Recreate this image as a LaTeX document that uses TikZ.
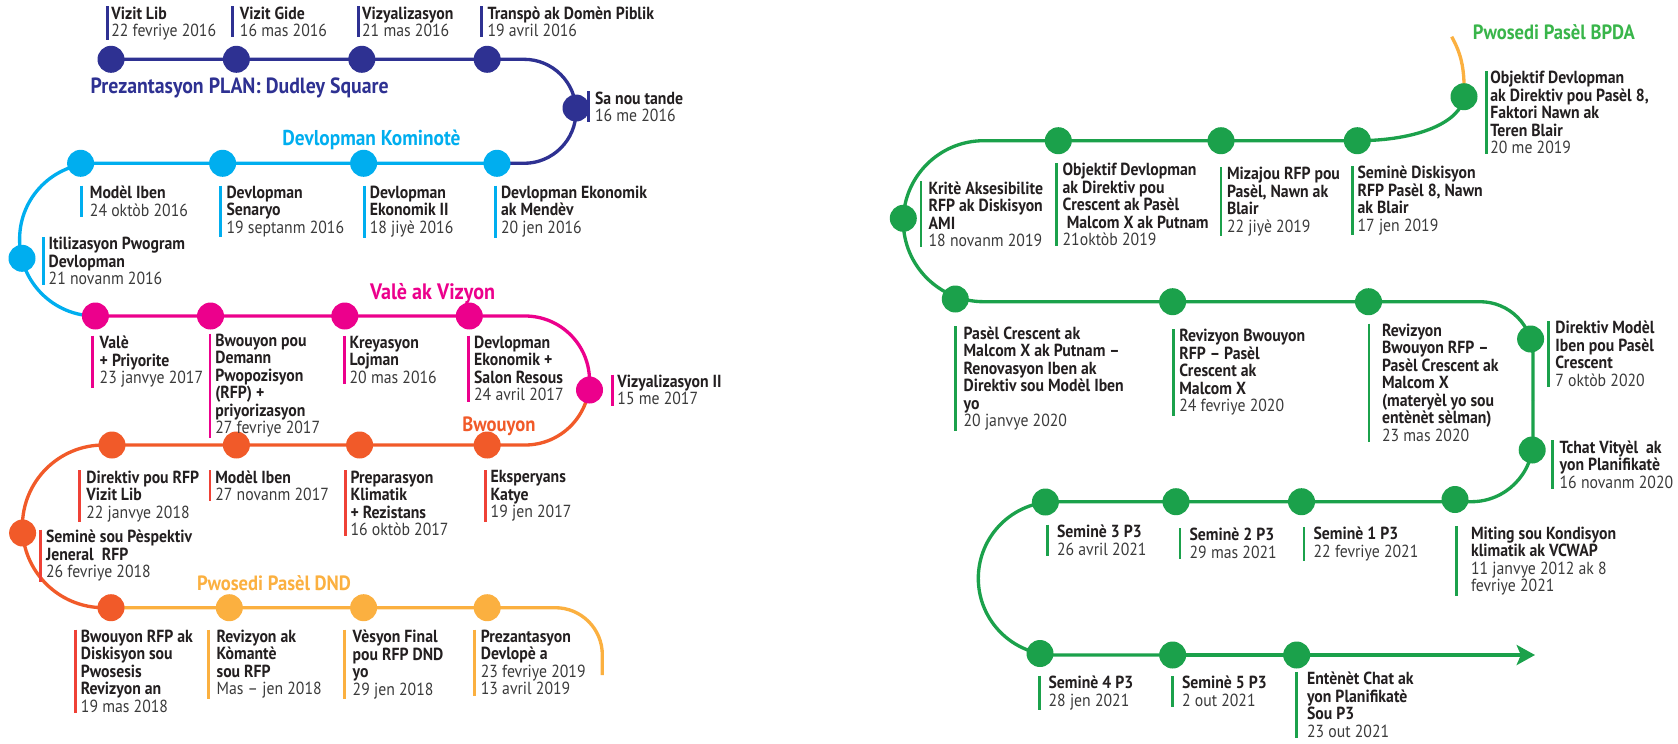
\documentclass[tikz,border=0pt]{standalone}
\usepackage{fontspec}
\setmainfont{PT Sans}[FakeStretch=0.9]
\usetikzlibrary{arrows.meta}
\definecolor{cBlue}{HTML}{2E3192}
\definecolor{cCyan}{HTML}{00AEEF}
\definecolor{cMag}{HTML}{EC008C}
\definecolor{cOr}{HTML}{F15A29}
\definecolor{cRed}{HTML}{EF4136}
\definecolor{cLt}{HTML}{FBB040}
\definecolor{cGr}{HTML}{1BA14B}
\definecolor{cGrT}{HTML}{39B54A}
\definecolor{cTxt}{HTML}{231F20}
\definecolor{cDate}{HTML}{3A3A3A}
\newcommand\dl{\mdseries\color{cDate}}
\newcommand\tlab[7][5]{%
  \node[lab] (#2) at (#3,#4) {#6\\\dl #7};
  \draw[lbar=#5] ([xshift=-0.6pt*#1]#2.north west) -- ([xshift=-0.6pt*#1]#2.south west);}
\begin{document}
\begin{tikzpicture}[x=0.6pt,y=-0.6pt,
  tdot/.style={circle,fill=#1,minimum size=16.2pt,inner sep=0pt},
  tl/.style={line width=2pt,draw=#1},
  lab/.style={anchor=north west,inner sep=0pt,align=left,font=\fontsize{10.5}{10.5}\selectfont\bfseries,text=cTxt},
  ttl/.style={font=\fontsize{12.4}{14}\selectfont\bfseries,text=#1,inner sep=0pt},
  lbar/.style={line width=1.7pt,draw=#1},
]
\useasboundingbox (0,0) rectangle (1678,743);
% ---------- node positions ----------
\coordinate (B1) at (111,59.3); \coordinate (B2) at (236.4,59.3); \coordinate (B3) at (361.8,59.3); \coordinate (B4) at (487.2,59.3); \coordinate (B5) at (576,108);
\coordinate (C1) at (80.6,163.3); \coordinate (C2) at (222.6,163.3); \coordinate (C3) at (363.6,163.3); \coordinate (C4) at (497,163.3); \coordinate (C5) at (22,258.3);
\coordinate (M1) at (95.4,316); \coordinate (M2) at (210.5,316); \coordinate (M3) at (344.8,316); \coordinate (M4) at (469.3,316); \coordinate (M5) at (589.5,390);
\coordinate (O1) at (112,445); \coordinate (O2) at (236.4,445); \coordinate (O3) at (359.6,445); \coordinate (O4) at (487.2,445); \coordinate (O5) at (22.6,533);
\coordinate (D1) at (111,607.7); \coordinate (D2) at (229.3,607.7); \coordinate (D3) at (363.6,607.7); \coordinate (D4) at (487.2,607.7);
\coordinate (G1) at (1464,96.7);
\coordinate (G2) at (1357.3,140.7); \coordinate (G3) at (1221,140.7); \coordinate (G4) at (1058.3,140.7); \coordinate (G5) at (903.3,218.3);
\coordinate (G6) at (955.3,299); \coordinate (G7) at (1172.6,301.7); \coordinate (G8) at (1368.5,301.7); \coordinate (G9) at (1530.6,339); \coordinate (G10) at (1532.2,450);
\coordinate (G11) at (1455,499.5); \coordinate (G12) at (1301.5,501.7); \coordinate (G13) at (1176,501.7); \coordinate (G14) at (1045.4,502);
\coordinate (G15) at (1040,653.5); \coordinate (G16) at (1172.7,655); \coordinate (G17) at (1296.7,655);
% ---------- corner points ----------
\coordinate (bR1) at (576,59.3); \coordinate (bR2) at (576,163.3);
\coordinate (cL1) at (19.6,163.3); \coordinate (cL2) at (19.6,316);
\coordinate (mR1) at (589.5,316); \coordinate (mMid) at (589.5,380.5); \coordinate (oR) at (589.5,445);
\coordinate (oL1) at (22.4,445); \coordinate (oL2) at (22.4,607.7);
\coordinate (dR) at (602.3,607.7); \coordinate (dEnd) at (602.3,675);
\coordinate (gS) at (1451.7,36.7);
\coordinate (gL1) at (903.3,140.7); \coordinate (gL2) at (903.3,301.7);
\coordinate (gR1) at (1533,301.7); \coordinate (gRm) at (1533,400); \coordinate (gR2) at (1533,501.7);
\coordinate (gL3) at (978.3,501.7); \coordinate (gL4) at (978.3,655);
\coordinate (gEnd) at (1535,655);
% ---------- lines ----------
\draw[tl=cBlue, rounded corners=31.2pt] (B1) -- (bR1) -- (bR2) -- (C4);
\draw[tl=cCyan, rounded corners=45.5pt] (C4) -- (cL1) -- (cL2) -- (M1);
\draw[tl=cMag, rounded corners=38.7pt] (M1) -- (mR1) -- (mMid);
\draw[tl=cOr, rounded corners=38.7pt] (mMid) -- (oR) -- (O1);
\draw[tl=cOr, rounded corners=48.7pt] (O1) -- (oL1) -- (oL2) -- (D1);
\draw[tl=cLt, rounded corners=28.2pt] (D1) -- (dR) -- (dEnd);
\draw[tl=cLt] (gS) .. controls (1460,52) and (1465,66) .. (G1);
\draw[tl=cGr] (G1) .. controls (1461,122) and (1418,140.7) .. (G2);
\draw[tl=cGr, rounded corners=48.3pt] (G2) -- (gL1) -- (gL2) -- (G7);
\draw[tl=cGr, rounded corners=31.8pt] (G7) -- (gR1) -- (gRm);
\draw[tl=cGr, rounded corners=37pt] (gRm) -- (gR2) -- (G13);
\draw[tl=cGr, rounded corners=46pt] (G13) -- (gL3) -- (gL4) -- (G16);
\draw[tl=cGr, -{Stealth[length=11pt,width=12pt,inset=2.5pt]}] (G16) -- (gEnd);
% ---------- dots ----------
\foreach \n in {1,...,5} \node[tdot=cBlue] (b\n) at (B\n) {};
\foreach \n in {1,...,5} \node[tdot=cCyan] (c\n) at (C\n) {};
\foreach \n in {1,...,5} \node[tdot=cMag] (m\n) at (M\n) {};
\foreach \n in {1,...,5} \node[tdot=cOr] (o\n) at (O\n) {};
\node[tdot=cOr] (d1) at (D1) {};
\foreach \n in {2,3,4} \node[tdot=cLt] (d\n) at (D\n) {};
\foreach \n in {1,...,17} \node[tdot=cGr] (g\n) at (G\n) {};
% ---------- titles ----------
\node[ttl=cBlue, font=\fontsize{13.2}{15}\selectfont\bfseries] (t1) at (239.6,88.3) {Prezantasyon PLAN: Dudley Square};
\node[ttl=cCyan, font=\fontsize{12.9}{15}\selectfont\bfseries] (t2) at (371.5,140) {Devlopman Kominotè};
\node[ttl=cMag, font=\fontsize{13.4}{15}\selectfont\bfseries] (t3) at (432.6,294) {Valè ak Vizyon};
\node[ttl=cOr] (t4) at (499,426.7) {Bwouyon};
\node[ttl=cLt] (t5) at (274,582.7) {Pwosedi Pasèl DND};
\node[ttl=cGrT] (t6) at (1553.9,32.3) {Pwosedi Pasèl BPDA};
% ---------- labels: blue ----------
\tlab[3.5]{lb1}{111}{6.3}{cBlue}{Vizit Lib}{22 fevriye 2016}
\tlab[6.7]{lb2}{239.6}{6.3}{cBlue}{Vizit Gide}{16 mas 2016}
\tlab[3.5]{lb3}{361.8}{6.3}{cBlue}{Vizyalizasyon}{21 mas 2016}
\tlab[5.8]{lb4}{487.2}{6.3}{cBlue}{Transpò ak Domèn Piblik}{19 avril 2016}
\tlab[5.8]{lb5}{594.7}{91.3}{cBlue}{Sa nou tande}{16 me 2016}
% ---------- labels: cyan ----------
\tlab[8]{lc1}{89.6}{185.7}{cCyan}{Modèl Iben}{24 oktòb 2016}
\tlab[6]{lc2}{226.2}{185.7}{cCyan}{Devlopman\\Senaryo}{19 septanm 2016}
\tlab{lc3}{369.5}{185.7}{cCyan}{Devlopman\\Ekonomik II}{18 jiyè 2016}
\tlab{lc4}{500.7}{185.7}{cCyan}{Devlopman Ekonomik\\ak Mendèv}{20 jen 2016}
\tlab{lc5}{48.4}{237}{cCyan}{Itilizasyon Pwogram\\Devlopman}{21 novanm 2016}
% ---------- labels: magenta ----------
\tlab[6.7]{lm1}{99.4}{335.7}{cMag}{Valè\\+ Priyorite}{23 janvye 2017}
\tlab{lm2}{215}{333.7}{cMag}{Bwouyon pou\\Demann\\Pwopozisyon\\(RFP) +\\priyorizasyon}{27 fevriye 2017}
\tlab{lm3}{349.3}{335.7}{cMag}{Kreyasyon\\Lojman}{20 mas 2016}
\tlab{lm4}{473.8}{335.7}{cMag}{Devlopman\\Ekonomik +\\Salon Resous}{24 avril 2017}
\tlab{lm5}{617.1}{374.7}{cMag}{Vizyalizasyon II}{15 me 2017}
% ---------- labels: orange ----------
\tlab[6.3]{lo1}{86}{470.3}{cRed}{Direktiv pou RFP\\Vizit Lib}{22 janvye 2018}
\tlab{lo2}{215}{470.3}{cRed}{Modèl Iben}{27 novanm 2017}
\tlab{lo3}{350.2}{470.3}{cRed}{Preparasyon\\Klimatik\\+ Rezistans}{16 oktòb 2017}
\tlab{lo4}{490.4}{470.3}{cRed}{Eksperyans\\Katye}{19 jen 2017}
\tlab{lo5}{45.7}{529.7}{cRed}{Seminè sou Pèspektiv\\Jeneral~ RFP}{26 fevriye 2018}
% ---------- labels: DND ----------
\tlab{ld1}{80.6}{629.7}{cRed}{Bwouyon RFP ak\\Diskisyon sou\\Pwosesis\\Revizyon an}{19 mas 2018}
\tlab[8]{ld2}{216.3}{629.7}{cLt}{Revizyon ak\\Kòmantè\\sou RFP}{Mas – jen 2018}
\tlab[7.6]{ld3}{352.4}{629.7}{cLt}{Vèsyon Final\\pou RFP DND\\yo}{29 jen 2018}
\tlab[5.8]{ld4}{480.5}{629.7}{cLt}{Prezantasyon\\Devlopè a}{23 fevriye 2019\\\dl 13 avril 2019}
% ---------- labels: green ----------
\tlab[3.5]{lg1}{1490}{71}{cGr}{Objektif Devlopman\\ak Direktiv pou Pasèl 8,\\Faktori Nawn ak\\Teren Blair}{20 me 2019}
\tlab[7.3]{lg2}{928.3}{181.3}{cGr}{Kritè Aksesibilite\\RFP ak Diskisyon\\AMI}{18 novanm 2019}
\tlab[5.6]{lg3}{1062.3}{163}{cGr}{Objektif Devlopman\\ak Direktiv pou\\Crescent ak Pasèl\\\hspace*{2.5pt}Malcom X ak Putnam}{21oktòb 2019}
\tlab[5.7]{lg4}{1226.7}{167}{cGr}{Mizajou RFP pou\\Pasèl, Nawn ak\\Blair}{22 jiyè 2019}
\tlab[4.6]{lg5}{1357.3}{166}{cGr}{Seminè Diskisyon\\RFP Pasèl 8, Nawn\\ak Blair}{17 jen 2019}
\tlab[7.6]{lg6}{963.3}{326.3}{cGr}{Pasèl Crescent ak\\Malcom X ak Putnam –\\Renovasyon Iben ak\\Direktiv sou Modèl Iben\\yo}{20 janvye 2020}
\tlab[5.7]{lg7}{1179}{329}{cGr}{Revizyon Bwouyon\\RFP – Pasèl\\Crescent ak\\Malcom X}{24 fevriye 2020}
\tlab[12.7]{lg8}{1381.7}{323.7}{cGr}{Revizyon\\Bwouyon RFP –\\Pasèl Crescent ak\\Malcom X\\(materyèl yo sou\\entènèt sèlman)}{23 mas 2020}
\tlab[6.7]{lg9}{1555}{321}{cGr}{Direktiv Modèl\\Iben pou Pasèl\\Crescent}{7 oktòb 2020}
\tlab[6.6]{lg10}{1559.3}{440.3}{cGr}{Tchat Vityèl~ ak\\yon Planifikatè}{16 novanm 2020}
\tlab[9]{lg11}{1056.7}{524.7}{cGr}{Seminè 3 P3}{26 avril 2021}
\tlab[9.3]{lg12}{1189.3}{528}{cGr}{Seminè 2 P3}{29 mas 2021}
\tlab[9.3]{lg13}{1313.3}{527}{cGr}{Seminè 1 P3}{22 fevriye 2021}
\tlab[14]{lg14}{1470.7}{526.3}{cGr}{Miting sou Kondisyon\\klimatik ak VCWAP}{11 janvye 2012 ak 8\\\dl fevriye 2021}
\tlab[9]{lg15}{1048.3}{675.7}{cGr}{Seminè 4 P3}{28 jen 2021}
\tlab[9]{lg16}{1181.7}{676}{cGr}{Seminè 5 P3}{2 out 2021}
\tlab[10]{lg17}{1306.7}{672}{cGr}{Entènèt Chat ak\\yon Planifikatè\\Sou P3}{23 out 2021}
\end{tikzpicture}
\end{document}
